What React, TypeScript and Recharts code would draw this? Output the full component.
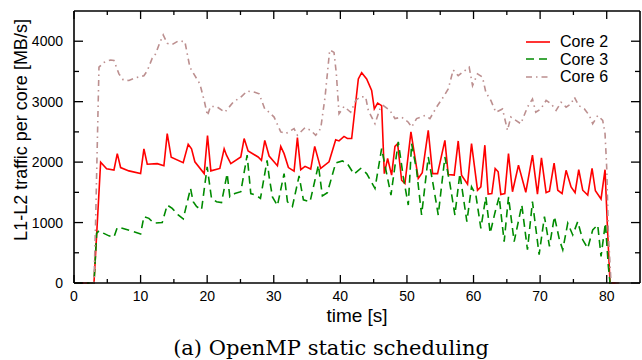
import React from "react"
import {
  LineChart,
  Line,
  XAxis,
  YAxis,
  ReferenceLine,
  Legend,
} from "recharts"

const core2T = [0, 3, 4, 4.9, 6, 6.5, 7, 8.25, 10, 10.5, 11, 12.5, 13.5, 14, 14.6, 16.4, 17.15, 17.65, 18.15, 19.55, 20.05, 20.55, 21.9, 22.55, 22.9, 23.55, 25.05, 25.55, 26.15, 27.65, 28.15, 28.65, 29.3, 30.55, 31.05, 31.55, 32.2, 33.05, 33.55, 34.05, 34.7, 35.55, 36.15, 37.05, 38.3, 39.3, 39.8, 40.55, 41.05, 41.7, 42.7, 43.2, 43.95, 44.7, 45.1, 45.6, 46.2, 46.6, 47.1, 47.7, 48.2, 48.6, 49.2, 49.7, 50.6, 51.7, 52.3, 53.2, 53.85, 54.6, 55.7, 56.2, 57.1, 57.7, 58.2, 59.1, 59.7, 60.6, 61.1, 61.7, 62.2, 62.75, 63.25, 63.7, 64.1, 64.7, 65.25, 65.85, 66.75, 67.85, 68.85, 69.6, 70.2, 70.9, 71.4, 72.1, 72.65, 73.3, 73.9, 74.65, 75.25, 75.8, 76.4, 77.15, 77.8, 78.3, 79.15, 79.75, 80.15, 80.5, 81.8]
const core2V = [0, 0, 2000, 1890, 1870, 2140, 1910, 1855, 1810, 2220, 1965, 1975, 1940, 2470, 2080, 1990, 2295, 2220, 2005, 1810, 2440, 1855, 1895, 2220, 2115, 1975, 2085, 2390, 2185, 2085, 2030, 2360, 2100, 1940, 2260, 2140, 1910, 1850, 2405, 1875, 1930, 1885, 2260, 1895, 2005, 2370, 2350, 2425, 2390, 2390, 3375, 3480, 3375, 3185, 2880, 2975, 2935, 1810, 2060, 1785, 2260, 2305, 1700, 1645, 2500, 1730, 1825, 2525, 1810, 1810, 2360, 1795, 1785, 2350, 1785, 1635, 2305, 1535, 1590, 2280, 1470, 1480, 1895, 1840, 1465, 1480, 2140, 1510, 1950, 1500, 2115, 1470, 2070, 1495, 1520, 1985, 1535, 1480, 1865, 1590, 1495, 1875, 1535, 1455, 1895, 1525, 1390, 1875, 820, 0, 0]

const core3T = [0, 3, 3.4, 3.75, 4.4, 5.25, 6, 6.5, 7.25, 8.5, 10, 10.5, 11.25, 12, 13.25, 14, 14.75, 15.65, 16.4, 17.5, 17.9, 18.4, 19.15, 20, 20.65, 21.4, 22.15, 23, 23.4, 24.15, 25.05, 26, 26.55, 27.3, 28, 29, 29.3, 29.8, 30.55, 31.55, 32.05, 32.8, 33.8, 34.45, 35.45, 36.7, 37.3, 38.05, 39.3, 40.3, 41.05, 42.05, 43.05, 43.95, 45.2, 46.2, 46.95, 47.6, 48.7, 49.45, 50.2, 50.7, 51.45, 52.2, 53.2, 53.95, 54.7, 55.7, 56.45, 57.2, 57.95, 59, 59.7, 60.35, 61.1, 61.85, 62.5, 63.2, 63.85, 64.6, 65.25, 66.1, 67.25, 68.1, 68.85, 69.85, 70.65, 71.4, 72.15, 72.9, 73.4, 74.15, 74.9, 75.65, 76.4, 77.15, 77.9, 78.65, 79.15, 79.8, 80.25, 80.5, 81.5]
const core3V = [0, 0, 820, 865, 825, 780, 760, 920, 905, 865, 810, 1100, 1070, 990, 1000, 1290, 1235, 1125, 1060, 1565, 1345, 1265, 1210, 1920, 1400, 1345, 1330, 1810, 1425, 1480, 1510, 2115, 1480, 1455, 1400, 2030, 1760, 1425, 1280, 1810, 1345, 1265, 1770, 1375, 1345, 1950, 1440, 1495, 1985, 2020, 1975, 1800, 1895, 1810, 1565, 2225, 1810, 1455, 2335, 1755, 1290, 2305, 1865, 1125, 2085, 1620, 1125, 2085, 1645, 1125, 1810, 1015, 1590, 1455, 905, 1425, 825, 1155, 1425, 685, 1425, 685, 1290, 550, 1345, 470, 1100, 605, 1100, 715, 550, 990, 795, 1015, 715, 575, 880, 960, 440, 990, 275, 0, 0]

const core6T = [0, 3, 3.25, 3.75, 4.5, 5.5, 6, 6.75, 7.4, 8.25, 9.25, 10.5, 11, 11.75, 12.25, 12.9, 13.4, 14, 14.75, 15.65, 16.65, 17.4, 18.15, 18.9, 19.55, 20.05, 20.5, 21.4, 22.65, 23.9, 25.15, 26, 27.15, 27.8, 28.65, 29.3, 30.05, 31.05, 31.8, 33.05, 33.55, 34.7, 35.55, 36.3, 37.05, 37.7, 38.4, 39.05, 39.4, 39.8, 40.55, 41.55, 42.3, 43.05, 43.8, 44.2, 45.2, 45.95, 46.45, 47.45, 48.2, 49.2, 50.2, 50.7, 51.45, 52.7, 53.45, 54.45, 55.45, 56.2, 56.95, 57.7, 58.35, 59.35, 59.85, 60.6, 61.35, 61.85, 62.6, 63.35, 64.35, 65.1, 65.6, 66.35, 67.1, 68.1, 68.85, 69.35, 70.1, 70.9, 71.65, 72.4, 73.15, 73.9, 74.65, 75.15, 75.8, 76.65, 77.4, 77.9, 78.65, 79.4, 79.75, 80, 80.25, 80.65, 81.9]
const core6V = [0, 0, 1040, 3570, 3650, 3690, 3680, 3460, 3360, 3350, 3395, 3430, 3510, 3720, 3790, 3980, 4105, 3965, 3945, 4005, 3995, 3570, 3430, 3295, 3020, 2770, 2920, 2920, 2825, 2990, 3085, 3175, 3155, 3130, 2880, 2825, 2745, 2500, 2470, 2555, 2445, 2570, 2525, 2445, 2555, 3075, 3855, 3815, 3460, 2800, 2920, 2825, 3020, 3085, 3075, 2855, 2635, 2880, 2935, 2855, 2720, 2745, 2660, 2580, 2720, 2770, 2720, 2910, 3075, 3210, 3525, 3430, 3485, 3570, 3265, 3460, 3405, 3155, 3020, 2825, 2880, 2525, 2745, 2690, 2635, 2910, 3045, 2825, 2880, 3020, 2965, 2855, 2990, 2910, 2965, 3075, 2935, 2880, 2770, 2635, 2770, 2690, 2470, 1910, 820, 0, 0]

const xTicks = [0, 5, 10, 15, 20, 25, 30, 35, 40, 45, 50, 55, 60, 65, 70, 75, 80]
const yTicks = [0, 500, 1000, 1500, 2000, 2500, 3000, 3500, 4000]

const toPoints = (ts: number[], vs: number[]) => ts.map((t, i) => ({ t, v: vs[i] }))

const series = [
  { name: "Core 2", data: toPoints(core2T, core2V), color: "#ff0000", dash: undefined },
  { name: "Core 3", data: toPoints(core3T, core3V), color: "#008b00", dash: "8 5" },
  { name: "Core 6", data: toPoints(core6T, core6V), color: "#bc8f8f", dash: "6 4 1.5 4" },
]

const PLOT_W = 566
const PLOT_H = 272
const FONT = "'Liberation Sans', Arial, sans-serif"

function XTick(props: any) {
  const { x, y, payload } = props
  const major = payload.value % 10 === 0
  const len = major ? 8 : 4
  return (
    <g>
      <line x1={x} x2={x} y1={y} y2={y - len} stroke="#000" strokeWidth={1.3} />
      <line x1={x} x2={x} y1={y - PLOT_H} y2={y - PLOT_H + len} stroke="#000" strokeWidth={1.3} />
      {major && (
        <text x={x} y={y + 18} textAnchor="middle" fontFamily={FONT} fontSize={14} fill="#000">
          {payload.value}
        </text>
      )}
    </g>
  )
}

function YTick(props: any) {
  const { x, y, payload } = props
  const major = payload.value % 1000 === 0
  const len = major ? 9 : 5
  return (
    <g>
      <line x1={x} x2={x + len} y1={y} y2={y} stroke="#000" strokeWidth={1.3} />
      <line x1={x + PLOT_W} x2={x + PLOT_W - len} y1={y} y2={y} stroke="#000" strokeWidth={1.3} />
      {major && (
        <text x={x - 11} y={y + 5} textAnchor="end" fontFamily={FONT} fontSize={14} fill="#000">
          {payload.value}
        </text>
      )}
    </g>
  )
}

function LegendBox() {
  return (
    <div style={{ fontFamily: FONT, fontSize: 16, lineHeight: "17.5px", color: "#000" }}>
      {series.map((s) => (
        <div key={s.name} style={{ display: "flex", alignItems: "center", height: 17.5 }}>
          <svg width={36} height={10}>
            <line x1={2} x2={26} y1={5} y2={5} stroke={s.color} strokeWidth={1.6} strokeDasharray={s.dash} />
          </svg>
          <span>{s.name}</span>
        </div>
      ))}
    </div>
  )
}

export default function App() {
  return (
    <div style={{ position: "absolute", left: 0, top: 0, width: 642, height: 360, background: "#fff" }}>
      <LineChart width={642} height={360} margin={{ top: 11, right: 2, bottom: 0, left: 0 }}>
        <XAxis
          type="number"
          dataKey="t"
          domain={[0, 85]}
          ticks={xTicks}
          interval={0}
          tickSize={0}
          tickMargin={0}
          tickLine={false}
          height={77}
          axisLine={{ stroke: "#000", strokeWidth: 1.6 }}
          tick={<XTick />}
          label={(p: any) => {
            const vb = p.viewBox
            return (
              <text x={vb.x + vb.width / 2} y={vb.y + 38.5} textAnchor="middle" fontFamily={FONT} fontSize={19} fill="#000">
                time [s]
              </text>
            )
          }}
        />
        <YAxis
          type="number"
          domain={[0, 4500]}
          ticks={yTicks}
          interval={0}
          width={74}
          tickSize={0}
          tickMargin={0}
          tickLine={false}
          axisLine={{ stroke: "#000", strokeWidth: 1.6 }}
          tick={<YTick />}
          label={() => (
            <text x={27} y={130} transform="rotate(-90 27 130)" textAnchor="middle" fontFamily={FONT} fontSize={18} fill="#000">
              L1-L2 traffic per core [MB/s]
            </text>
          )}
        />
        <ReferenceLine y={4500} stroke="#000" strokeWidth={1.6} />
        <ReferenceLine x={85} stroke="#000" strokeWidth={1.6} />
        {series.map((s) => (
          <Line
            key={s.name}
            data={s.data}
            dataKey="v"
            name={s.name}
            type="linear"
            stroke={s.color}
            strokeWidth={1.6}
            strokeDasharray={s.dash}
            dot={false}
            activeDot={false}
            isAnimationActive={false}
          />
        ))}
        <Legend
          layout="vertical"
          align="center"
          verticalAlign="middle"
          content={<LegendBox />}
          wrapperStyle={{ position: "absolute", left: 524, top: 33, width: 110 }}
        />
      </LineChart>
      <div
        style={{
          position: "absolute",
          left: 0,
          top: 336,
          width: 662,
          textAlign: "center",
          fontFamily: "'DejaVu Serif', 'Liberation Serif', serif",
          fontSize: 21,
          lineHeight: "24px",
          color: "#000",
          whiteSpace: "nowrap",
        }}
      >
        (a) OpenMP static scheduling
      </div>
    </div>
  )
}
